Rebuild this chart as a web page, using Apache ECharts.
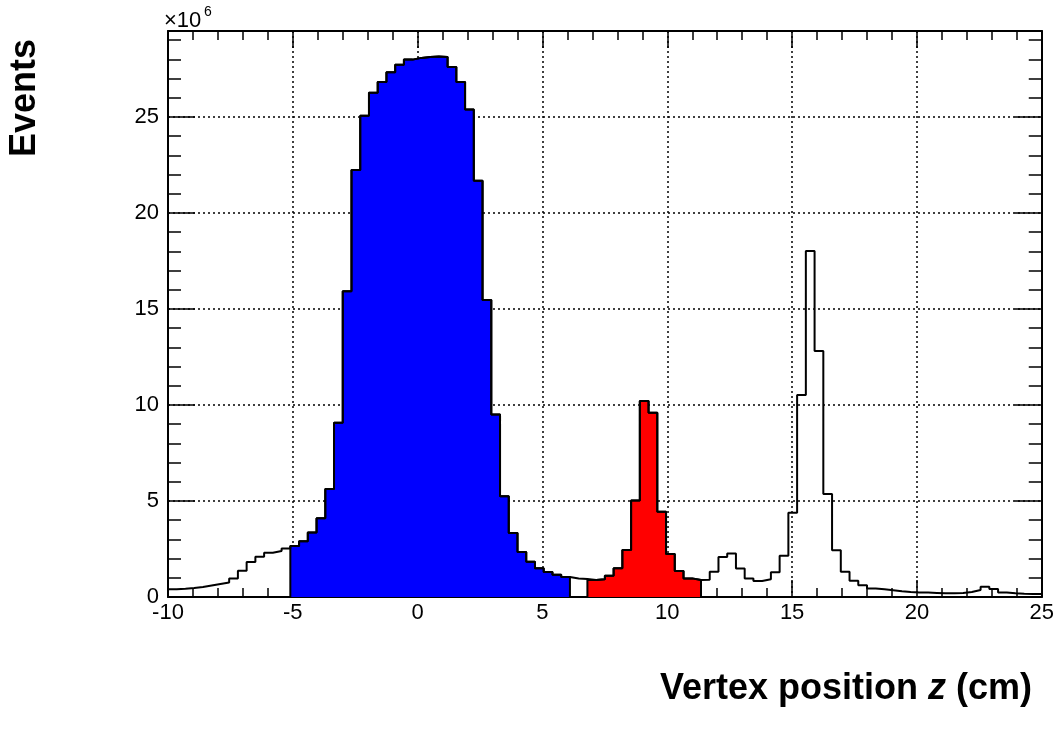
<!DOCTYPE html>
<html>
<head>
<meta charset="utf-8">
<script src="https://cdn.jsdelivr.net/npm/echarts@6/dist/echarts.min.js"></script>
<style>
html,body{margin:0;padding:0;background:#fff;}
#chart{width:1057px;height:738px;}
</style>
</head>
<body>
<div id="chart"></div>
<script>
// ---- data ----
const binStart = -10;      // first bin low edge (cm)
const binWidth = 0.35;     // bin width (cm)
// events per bin, in units of 10^6
const events = [
  0.40, 0.43, 0.47, 0.52, 0.60, 0.68, 0.75, 0.97, 1.37, 1.82,
  2.10, 2.31, 2.40, 2.52, 2.65, 2.91, 3.36, 4.10, 5.63, 9.07,
  15.93, 22.24, 25.07, 26.27, 26.83, 27.33, 27.72, 27.99, 28.08, 28.12,
  28.15, 28.13, 27.61, 26.83, 25.39, 21.68, 15.47, 9.50, 5.25, 3.33,
  2.35, 1.84, 1.50, 1.30, 1.16, 1.04, 0.96, 0.94, 0.89, 0.92,
  1.11, 1.50, 2.45, 5.02, 10.21, 9.60, 4.44, 2.24, 1.35, 0.97,
  0.89, 0.90, 1.32, 2.08, 2.26, 1.48, 0.96, 0.83, 0.92, 1.29,
  2.15, 4.39, 10.52, 18.02, 12.81, 5.36, 2.43, 1.32, 0.84, 0.61,
  0.44, 0.40, 0.35, 0.30, 0.26, 0.24, 0.23, 0.21, 0.19, 0.19,
  0.21, 0.26, 0.36, 0.54, 0.42, 0.24, 0.19, 0.17, 0.16, 0.15
];
const blueBins = [14, 45];   // first/last bin index of the blue region
const redBins  = [48, 60];   // first/last bin index of the red region
const xMin = -10, xMax = 25, xStep = 5;
const yMin = 0, yMax = 29.48, yStep = 5;
const xTitle = 'Vertex position {i|z} (cm)';
const yTitle = 'Events';
const yExponent = ['×10', '6'];

// ---- helpers ----
const edge = k => +(binStart + k * binWidth).toFixed(4);
function stepPoints(from, to, closed) {
  const pts = [];
  if (closed) pts.push([edge(from), 0]);
  for (let k = from; k <= to; k++) pts.push([edge(k), events[k]]);
  pts.push([edge(to + 1), events[to]]);
  if (closed) pts.push([edge(to + 1), 0]);
  return pts;
}

const FONT = 'Liberation Sans, Arial, Helvetica, sans-serif';
const black = '#000';
const frameLine = {show: true, onZero: false, lineStyle: {color: black, width: 2}};
const noLine = {show: false, onZero: false};
const dotted = {show: true, lineStyle: {color: black, width: 1.5, type: [2, 3]}};
const tickStyle = {color: black, width: 1.5};

const chart = echarts.init(document.getElementById('chart'), null, {renderer: 'canvas'});

const option = {
  animation: false,
  backgroundColor: '#fff',
  grid: {left: 168, right: 15, top: 31, bottom: 141, containLabel: false},
  xAxis: [
    {
      type: 'value', min: xMin, max: xMax, interval: xStep, position: 'bottom',
      axisLine: frameLine,
      axisTick: {show: true, inside: true, length: 17, lineStyle: tickStyle},
      minorTick: {show: true, splitNumber: 5, length: 9, lineStyle: tickStyle},
      axisLabel: {color: black, fontSize: 22, fontFamily: FONT, margin: 5},
      splitLine: dotted
    },
    {
      type: 'value', min: xMin, max: xMax, interval: xStep, position: 'top',
      axisLine: frameLine,
      axisTick: {show: true, inside: true, length: 17, lineStyle: tickStyle},
      minorTick: {show: true, splitNumber: 5, length: 9, lineStyle: tickStyle},
      axisLabel: {show: false},
      splitLine: {show: false}
    }
  ],
  yAxis: [
    {
      type: 'value', min: yMin, max: yMax, interval: yStep, position: 'left',
      axisLine: frameLine,
      axisTick: {show: true, inside: true, length: 27, lineStyle: tickStyle},
      axisLabel: {color: black, fontSize: 22, fontFamily: FONT, margin: 9, showMaxLabel: false},
      splitLine: dotted
    },
    {
      type: 'value', min: yMin, max: yMax, interval: 1, position: 'left',
      axisLine: noLine,
      axisTick: {show: true, inside: true, length: 13, lineStyle: tickStyle},
      axisLabel: {show: false},
      splitLine: {show: false}
    },
    {
      type: 'value', min: yMin, max: yMax, interval: yStep, position: 'right',
      axisLine: frameLine,
      axisTick: {show: true, inside: true, length: 27, lineStyle: tickStyle},
      axisLabel: {show: false},
      splitLine: {show: false}
    },
    {
      type: 'value', min: yMin, max: yMax, interval: 1, position: 'right',
      axisLine: noLine,
      axisTick: {show: true, inside: true, length: 13, lineStyle: tickStyle},
      axisLabel: {show: false},
      splitLine: {show: false}
    }
  ],
  series: [
    {
      name: 'blue', type: 'line', step: 'end', xAxisIndex: 0, yAxisIndex: 0,
      data: stepPoints(blueBins[0], blueBins[1], true),
      symbol: 'none', lineStyle: {color: black, width: 2},
      areaStyle: {color: '#0000ff', opacity: 1}, z: 2
    },
    {
      name: 'red', type: 'line', step: 'end', xAxisIndex: 0, yAxisIndex: 0,
      data: stepPoints(redBins[0], redBins[1], true),
      symbol: 'none', lineStyle: {color: black, width: 2},
      areaStyle: {color: '#ff0000', opacity: 1}, z: 2
    },
    {
      name: 'all', type: 'line', step: 'end', xAxisIndex: 0, yAxisIndex: 0,
      data: stepPoints(0, events.length - 1, false),
      symbol: 'none', lineStyle: {color: black, width: 2}, z: 3
    }
  ],
  graphic: [
    {type: 'text', x: 164, y: 21, style: {text: yExponent[0], fill: black, font: '22px ' + FONT, textAlign: 'left', textVerticalAlign: 'middle'}},
    {type: 'text', x: 204, y: 12, style: {text: yExponent[1], fill: black, font: '14px ' + FONT, textAlign: 'left', textVerticalAlign: 'middle'}},
    {type: 'text', x: 25, y: 98, rotation: Math.PI / 2,
      style: {text: yTitle, fill: black, font: 'bold 36px ' + FONT, textAlign: 'center', textVerticalAlign: 'middle'}},
    {type: 'text', x: 1032, y: 689,
      style: {text: xTitle, fill: black, font: 'bold 36px ' + FONT, textAlign: 'right', textVerticalAlign: 'middle',
        rich: {i: {fontStyle: 'italic', fontWeight: 'bold', fontSize: 36, fontFamily: FONT, fill: black}}}}
  ]
};
chart.setOption(option);
</script>
</body>
</html>
